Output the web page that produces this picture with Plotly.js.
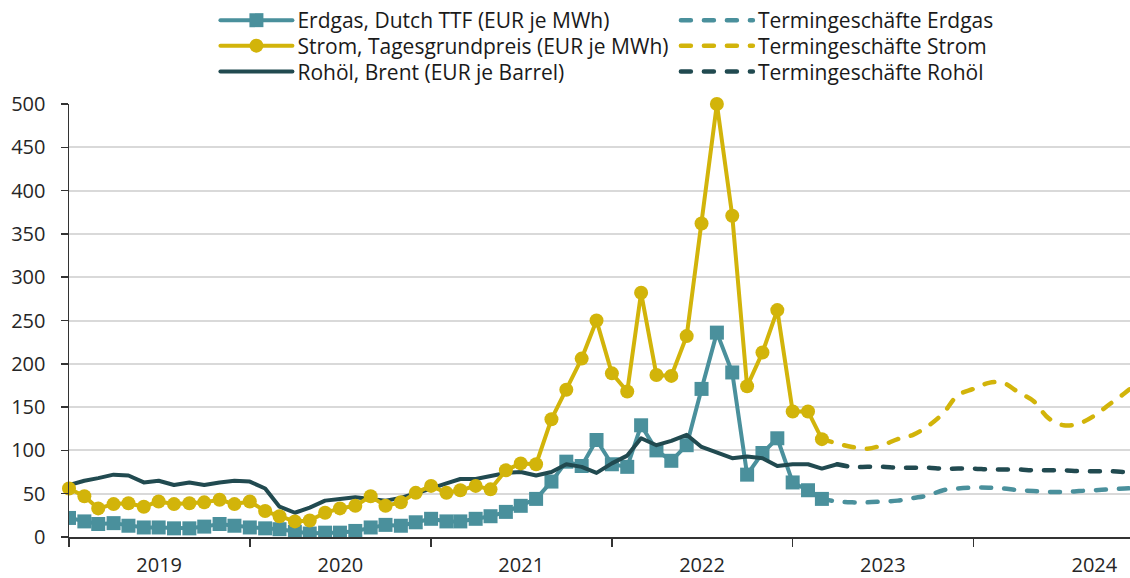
<!DOCTYPE html>
<html>
<head>
<meta charset="utf-8">
<script src="https://cdn.plot.ly/plotly-3.0.1.min.js"></script>
<style>
  html, body { margin: 0; padding: 0; background: #fff; }
  #chart { width: 1130px; height: 578px; }
  .js-line { stroke-linecap: round; stroke-linejoin: round; }
</style>
</head>
<body>
<div id="chart"></div>
<script>
// ---- Data (monthly, starting January 2019) ----
const startYear = 2019;
const monthCount = 72; // Jan 2019 .. Dec 2024

// Erdgas, Dutch TTF (EUR je MWh): Jan 2019 .. Mar 2023
const gasActual = [22,18,15,16,13,11,11,10,10,12,15,13,
                   11,10,9,6,4,5,5,7,11,14,13,17,
                   21,18,18,21,24,29,36,44,64,87,82,112,
                   84,81,129,100,88,106,171,236,190,72,97,114,
                   63,54,44];
// Strom, Tagesgrundpreis (EUR je MWh): Jan 2019 .. Mar 2023
const powerActual = [56,47,33,38,39,35,41,38,39,40,43,38,
                     41,30,24,18,19,28,33,36,47,36,40,51,
                     59,51,54,59,55,77,85,84,136,170,206,250,
                     189,168,282,187,186,232,362,500,371,174,213,262,
                     145,145,113];
// Rohöl, Brent (EUR je Barrel): Jan 2019 .. Apr 2023
const oilActual = [60,65,68,72,71,63,65,60,63,60,63,65,
                   64,56,35,28,34,42,44,46,44,42,45,51,
                   56,62,67,67,70,74,75,71,75,84,81,74,
                   85,94,114,106,111,118,104,97,91,93,91,82,
                   84,84,79,84];

// Termingeschäfte (futures): gas & power from Mar 2023, oil from Apr 2023
const gasFutStart = 50;
const gasFutures = [44,41,40,40,41,42,45,48,54,56,57,57,56,54,53,52,52,53,54,55,56,57];
const powerFutStart = 50;
const powerFutures = [113,108,104,102,106,113,118,128,143,164,171,178,178,167,157,137,129,131,140,153,166,180];
const oilFutStart = 51;
const oilFutures = [84,81,81,81,80,80,80,79,79,79,78,78,78,77,77,77,76,76,76,75,75];

const yearLabels = ['2019','2020','2021','2022','2023','2024'];
const yearLabelPos = ['2019-07-02','2020-07-02','2021-07-02','2022-07-02','2023-07-02','2024-09-01'];
const yearTicks = ['2019-01-01','2020-01-01','2021-01-01','2022-01-01','2023-01-01','2024-01-01'];

// ---- Build month categories ----
const months = [];
for (let i = 0; i < monthCount; i++) {
  const y = startYear + Math.floor(i / 12);
  const m = (i % 12) + 1;
  months.push(y + '-' + (m < 10 ? '0' + m : m) + '-01');
}

const cGas = '#4a909c';
const cPower = '#d2b40a';
const cOil = '#214a50';
const dashPat = '10px,13px';

const traces = [
  { x: months.slice(gasFutStart, gasFutStart + gasFutures.length), y: gasFutures,
    name: 'Termingeschäfte Erdgas', mode: 'lines', legend: 'legend4',
    line: { color: cGas, width: 4.5, dash: dashPat, shape: 'spline', smoothing: 1 } },
  { x: months.slice(0, gasActual.length), y: gasActual,
    name: 'Erdgas, Dutch TTF (EUR je MWh)', mode: 'lines+markers', legend: 'legend',
    line: { color: cGas, width: 4 }, marker: { symbol: 'square', size: 14, color: cGas } },
  { x: months.slice(oilFutStart, oilFutStart + oilFutures.length), y: oilFutures,
    name: 'Termingeschäfte Rohöl', mode: 'lines', legend: 'legend6',
    line: { color: cOil, width: 4.5, dash: dashPat, shape: 'spline', smoothing: 1 } },
  { x: months.slice(0, oilActual.length), y: oilActual,
    name: 'Rohöl, Brent (EUR je Barrel)', mode: 'lines', legend: 'legend3',
    line: { color: cOil, width: 4 } },
  { x: months.slice(powerFutStart, powerFutStart + powerFutures.length), y: powerFutures,
    name: 'Termingeschäfte Strom', mode: 'lines', legend: 'legend5',
    line: { color: cPower, width: 4.5, dash: dashPat, shape: 'spline', smoothing: 1 } },
  { x: months.slice(0, powerActual.length), y: powerActual,
    name: 'Strom, Tagesgrundpreis (EUR je MWh)', mode: 'lines+markers', legend: 'legend2',
    cliponaxis: false,
    line: { color: cPower, width: 4 }, marker: { symbol: 'circle', size: 14, color: cPower } },
  // invisible trace carrying the year labels on the secondary x axis
  { x: yearLabelPos, y: [null, null, null, null, null, null], xaxis: 'x2', showlegend: false,
    mode: 'markers', hoverinfo: 'skip' }
];

const font = { family: '"Open Sans", "Noto Sans", sans-serif', size: 20, color: '#262626' };
const xRange = ['2019-01-01', '2024-11-12'];

function leg(x, y) {
  return {
    x: x, y: y, xanchor: 'left', yanchor: 'middle', orientation: 'v',
    font: { family: font.family, size: 21, color: '#1a1a1a' },
    itemwidth: 72, bgcolor: 'rgba(0,0,0,0)', borderwidth: 0
  };
}
const rowY = [1.194, 1.134, 1.074];

const layout = {
  width: 1130, height: 578,
  margin: { l: 69, r: 0, t: 104, b: 41 },
  paper_bgcolor: '#ffffff', plot_bgcolor: '#ffffff',
  font: font,
  showlegend: true,
  hovermode: false,
  xaxis: {
    type: 'date', range: xRange,
    tickmode: 'array', tickvals: yearTicks, showticklabels: false,
    ticks: 'outside', ticklen: 8, tickwidth: 1.5, tickcolor: '#333',
    showline: true, linecolor: '#333', linewidth: 1.5,
    showgrid: false, zeroline: false, fixedrange: true
  },
  xaxis2: {
    type: 'date', range: xRange, overlaying: 'x',
    tickmode: 'array', tickvals: yearLabelPos, ticktext: yearLabels,
    ticks: '', showline: false, showgrid: false, zeroline: false,
    side: 'bottom', anchor: 'y', ticklabelstandoff: 14,
    tickfont: font, fixedrange: true
  },
  yaxis: {
    range: [0, 500], tickmode: 'array', tickvals: [0,50,100,150,200,250,300,350,400,450,500],
    ticks: 'outside', ticklen: 7, tickwidth: 1.5, tickcolor: '#333',
    showline: true, linecolor: '#333', linewidth: 1.5,
    showgrid: true, gridcolor: '#d9d9d9', gridwidth: 2,
    zeroline: false, tickfont: font, ticklabelstandoff: 11, fixedrange: true
  },
  legend: leg(0.138, rowY[0]),
  legend2: leg(0.138, rowY[1]),
  legend3: leg(0.138, rowY[2]),
  legend4: leg(0.572, rowY[0]),
  legend5: leg(0.572, rowY[1]),
  legend6: leg(0.572, rowY[2])
};

Plotly.newPlot('chart', traces, layout, { displayModeBar: false, staticPlot: true });
</script>
</body>
</html>
